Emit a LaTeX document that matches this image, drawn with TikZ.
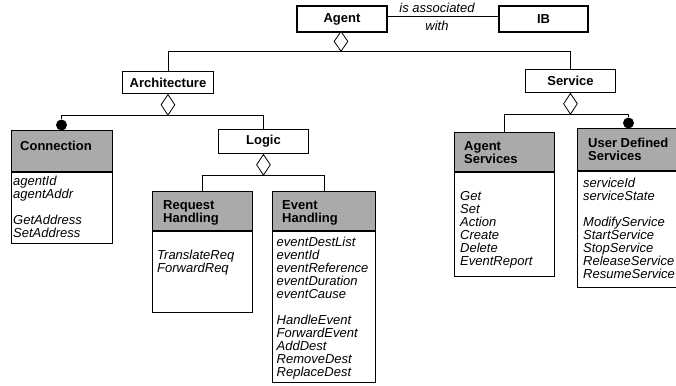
\documentclass[tikz,border=0pt]{standalone}
\usepackage{fontspec}
\setmainfont{Liberation Sans}
\usetikzlibrary{shapes.geometric}
\definecolor{headgray}{RGB}{170,170,170}
\begin{document}
\begin{tikzpicture}[x=1pt,y=-1pt,
  every node/.style={font=\fontsize{13}{13}\selectfont},
  thickbox/.style={draw, line width=2pt, inner sep=0, anchor=north west, font=\fontsize{13}{13}\selectfont\bfseries},
  plainbox/.style={draw, line width=0.9pt, inner sep=0, anchor=north west, font=\fontsize{13}{13}\selectfont\bfseries},
  classbox/.style={draw, line width=0.9pt, fill=white, inner sep=0, anchor=north west},
  headbox/.style={draw, line width=0.9pt, fill=headgray, inner sep=0, anchor=north west},
  agg/.style={diamond, draw, fill=white, line width=0.8pt, inner sep=0, minimum width=14pt, minimum height=21pt, anchor=north},
  ball/.style={circle, fill=black, inner sep=0, minimum size=11pt},
  htext/.style={anchor=base west, inner sep=0, font=\fontsize{13}{13}\selectfont\bfseries},
  btext/.style={anchor=base west, inner sep=0, font=\fontsize{13}{13}\selectfont\itshape},
  conn/.style={line width=0.8pt},
  sep/.style={line width=1.4pt},
]
\useasboundingbox (0,0) rectangle (676,385);

% top level
\node[thickbox, minimum width=90pt, minimum height=26pt] (agent) at (296,5) {Agent};
\node[thickbox, minimum width=89pt, minimum height=26pt] (ib) at (498,5) {IB};
\draw[conn] ([yshift=3pt]agent.east) -- ([yshift=3pt]ib.west);
\node[font=\fontsize{13}{13}\selectfont\itshape, inner sep=0] (lab1) at (437,7.5) {is associated};
\node[font=\fontsize{13}{13}\selectfont\itshape, inner sep=0] (lab2) at (437,25.5) {with};

\node[agg, minimum height=20pt] (dAgent) at (341,31) {};
\node[plainbox, minimum width=91pt, minimum height=22pt] (arch) at (122,71) {Architecture};
\node[plainbox, minimum width=90pt, minimum height=23pt] (serv) at (525,69) {Service};
\draw[conn] (dAgent.south) -| (arch.north);
\draw[conn] (dAgent.south) -| (serv.north);

% Architecture children
\node[agg] (dArch) at (arch.south) {};
\node[plainbox, minimum width=90pt, minimum height=24pt] (logic) at (218,129) {Logic};
\node[ball] (ballConn) at (61.5,125) {};
\draw[conn] (dArch.south) -| (ballConn.north);
\draw[conn] (dArch.south) -| (logic.north);

% Connection class
\node[classbox, minimum width=101pt, minimum height=113pt] (connBox) at (11,130) {};
\node[headbox, minimum width=101pt, minimum height=41pt] (connHead) at (11,130) {};
\draw[sep] (connHead.south west) -- (connHead.south east);
\node[htext] (connT) at (20,150) {Connection};
\node[btext] (connB) at (13,185) {\parbox[t]{98pt}{agentId\\agentAddr\\[13pt]GetAddress\\SetAddress}};

% Logic children
\node[agg] (dLogic) at (logic.south) {};
\node[classbox, minimum width=100pt, minimum height=121pt] (reqBox) at (152,191) {};
\node[headbox, minimum width=100pt, minimum height=39pt] (reqHead) at (152,191) {};
\draw[sep] (reqHead.south west) -- (reqHead.south east);
\node[htext] (reqT) at (163,209) {\parbox[t]{88pt}{Request\\Handling}};
\node[btext] (reqB) at (157,259.5) {\parbox[t]{94pt}{TranslateReq\\ForwardReq}};

\node[classbox, minimum width=103pt, minimum height=191pt] (evtBox) at (272,191) {};
\node[headbox, minimum width=103pt, minimum height=39pt] (evtHead) at (272,191) {};
\draw[sep] (evtHead.south west) -- (evtHead.south east);
\node[htext] (evtT) at (282,209) {\parbox[t]{90pt}{Event\\Handling}};
\node[btext] (evtB) at (276.5,246.5) {\parbox[t]{100pt}{eventDestList\\eventId\\eventReference\\eventDuration\\eventCause\\[13pt]HandleEvent\\ForwardEvent\\AddDest\\RemoveDest\\ReplaceDest}};
\draw[conn] (dLogic.south) -| (reqBox.north);
\draw[conn] (dLogic.south) -| (evtBox.north);

% Service children
\node[agg] (dServ) at (serv.south) {};
\node[classbox, minimum width=100pt, minimum height=144pt] (asBox) at (454,132) {};
\node[headbox, minimum width=100pt, minimum height=39pt] (asHead) at (454,132) {};
\draw[sep] (asHead.south west) -- (asHead.south east);
\node[htext] (asT) at (464,150) {\parbox[t]{88pt}{Agent\\Services}};
\node[btext] (asB) at (460,200.5) {\parbox[t]{94pt}{Get\\Set\\Action\\Create\\Delete\\EventReport}};

\node[classbox, minimum width=103pt, minimum height=159pt] (udBox) at (577,128) {};
\node[headbox, minimum width=103pt, minimum height=42pt] (udHead) at (577,128) {};
\draw[sep] (udHead.south west) -- (udHead.south east);
\node[htext] (udT) at (588,147) {\parbox[t]{92pt}{User Defined\\Services}};
\node[btext] (udB) at (583,187.5) {\parbox[t]{98pt}{serviceId\\serviceState\\[13pt]ModifyService\\StartService\\StopService\\ReleaseService\\ResumeService}};
\node[ball] (ballUd) at (628.5,123) {};
\draw[conn] (dServ.south) -| (asBox.north);
\draw[conn] (dServ.south) -| (ballUd.north);
\end{tikzpicture}
\end{document}
